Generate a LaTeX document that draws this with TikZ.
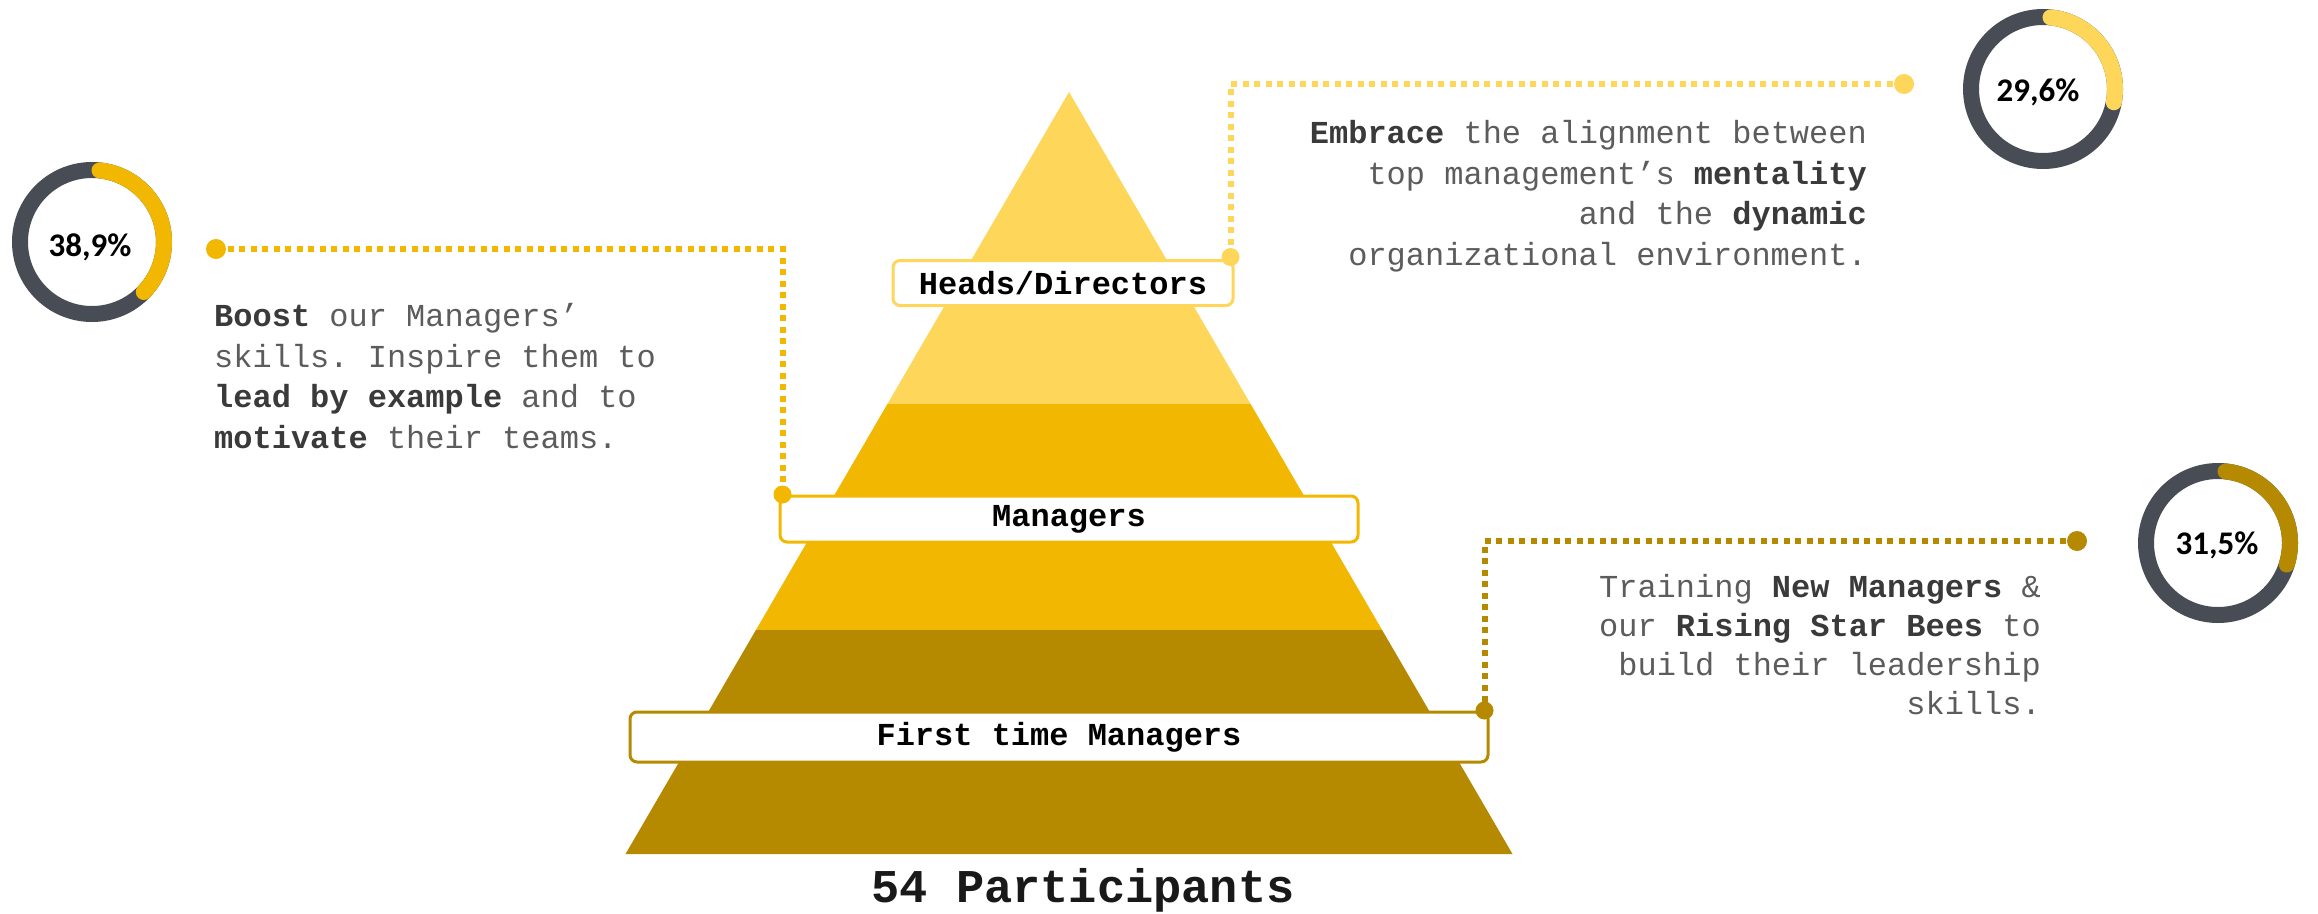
\documentclass[tikz,border=0pt]{standalone}
\usepackage{fontspec}
\setmonofont{Liberation Mono}
\newfontfamily\pctfont{Carlito}
\usetikzlibrary{calc}
\definecolor{beelight}{HTML}{FED659}
\definecolor{beemid}{HTML}{F2B700}
\definecolor{beedark}{HTML}{B58A00}
\definecolor{ringgray}{HTML}{484D55}
\definecolor{textgray}{HTML}{5C5C5C}
\definecolor{boldgray}{HTML}{3A3A3A}
\newcommand{\hl}[1]{\textbf{\color{boldgray}#1}}
\tikzset{
  tier/.style={rounded corners=7pt, line width=3pt, fill=white, inner sep=0pt,
    font=\ttfamily\bfseries\fontsize{32}{38}\selectfont},
  leader/.style={line width=6pt, dash pattern=on 6pt off 5.5pt},
  blurb/.style={inner sep=0pt, text=textgray, font=\ttfamily\fontsize{32}{40.4}\selectfont},
  ring/.style={line width=16pt, color=ringgray},
  ringpart/.style={line width=16pt, line cap=round},
  pct/.style={inner sep=0pt, font=\pctfont\bfseries\fontsize{33}{36}\selectfont}
}
\begin{document}
\begin{tikzpicture}[x=1pt, y=-1pt]
  %%%%% START %%%%%
  \useasboundingbox (0,0) rectangle (2318,913);

  % pyramid
  \fill[beelight] (1069,92) -- (887.4,404) -- (1250.6,404) -- cycle;
  \fill[beemid] (887.4,404) -- (1250.6,404) -- (1382.1,630) -- (755.9,630) -- cycle;
  \fill[beedark] (755.9,630) -- (1382.1,630) -- (1512.5,854) -- (625.5,854) -- cycle;

  % tier labels
  \node[tier, draw=beelight, minimum width=340pt, minimum height=45pt] (heads) at (1063,283) {Heads/Directors};
  \node[tier, draw=beemid, minimum width=578pt, minimum height=46pt] (mgr) at (1069,519) {Managers};
  \node[tier, draw=beedark, minimum width=858pt, minimum height=50pt] (ftm) at (1059,737) {First time Managers};

  \node[anchor=base, font=\ttfamily\bfseries\fontsize{47}{56}\selectfont, text=black!90] (total) at (1083,902) {54 Participants};

  % leaders
  \coordinate (lstart) at (216,249);
  \coordinate (lend) at ($(mgr.north west)+(4,0)$);
  \draw[leader, beemid] (lstart) -| (lend);
  \fill[beemid] (lstart) circle (10) (lend) circle (9);

  \coordinate (tstart) at (1904,84);
  \coordinate (tend) at ($(heads.north east)+(-4,-2)$);
  \draw[leader, beelight] (tstart) -| (tend);
  \fill[beelight] (tstart) circle (10) (tend) circle (9);

  \coordinate (rstart) at (2077,541);
  \coordinate (rend) at ($(ftm.north east)+(-5,0)$);
  \draw[leader, beedark] (rstart) -| (rend);
  \fill[beedark] (rstart) circle (10) (rend) circle (9);

  % texts (base = last line)
  \node[blurb, anchor=base west, align=left] (ltext) at (214,448) {\hl{Boost} our Managers’\\skills. Inspire them to\\\hl{lead by example} and to\\\hl{motivate} their teams.};
  \node[blurb, anchor=base east, align=right] (ttext) at (1867,265) {\hl{Embrace} the alignment between\\top management’s \hl{mentality}\\and the \hl{dynamic}\\organizational environment.};
  \node[blurb, anchor=base east, align=right, font=\ttfamily\fontsize{32}{39}\selectfont] (rtext) at (2041,714) {Training \hl{New Managers} \&\\our \hl{Rising Star Bees} to\\build their leadership\\skills.};

  % rings (y axis points down, so angles run the other way)
  \coordinate (lring) at (92,242);
  \draw[ring] (lring) circle (72);
  \draw[ringpart, beemid] ($(lring)+(-84:72)$) arc (-84:44:72);
  \node[pct] (lpct) at (90,247) {38,9\%};

  \coordinate (tring) at (2043,89);
  \draw[ring] (tring) circle (72);
  \draw[ringpart, beelight] ($(tring)+(-84:72)$) arc (-84:10.6:72);
  \node[pct] (tpct) at (2038,92) {29,6\%};

  \coordinate (rring) at (2218,543);
  \draw[ring] (rring) circle (72);
  \draw[ringpart, beedark] ($(rring)+(-84:72)$) arc (-84:17.4:72);
  \node[pct] (rpct) at (2217,545) {31,5\%};

  %%%%% END %%%%%
\end{tikzpicture}
\end{document}
